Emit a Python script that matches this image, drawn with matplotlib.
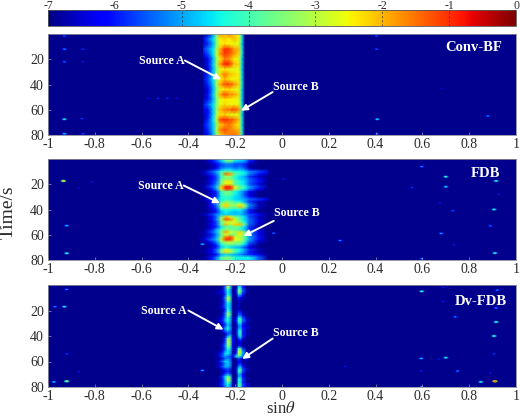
import numpy as np
import matplotlib
matplotlib.use('Agg')
import matplotlib.pyplot as plt
from matplotlib.path import Path
from matplotlib.transforms import Affine2D

plt.rcParams['font.family'] = ['Liberation Serif', 'DejaVu Serif']
plt.rcParams['mathtext.fontset'] = 'stix'

bg = -6.9
times = [0, 4, 8, 12, 16, 20, 24, 28, 32, 36, 40, 44, 48, 52, 56, 60, 64, 68, 72, 76, 80]
times_fine = [0, 2, 4, 6, 8, 10, 12, 14, 16, 18, 20, 22, 24, 26, 28, 30, 32, 34, 36, 38, 40,
              42, 44, 46, 48, 50, 52, 54, 56, 58, 60, 62, 64, 66, 68, 70, 72, 74, 76, 78, 80]

# conv-bf beam, db values per row
x_conv = [-0.335, -0.315, -0.295, -0.28, -0.265, -0.245, -0.225, -0.205, -0.185, -0.172, -0.16]
z_conv = [
    [-6.9, -6.6, -5.2, -3.6, -1.7, -2.0, -1.5, -2.2, -2.4, -4.6, -6.9],
    [-6.2, -5.4, -4.6, -3.4, -2.4, -2.2, -2.4, -2.0, -2.4, -4.4, -6.9],
    [-6.6, -5.8, -5.0, -3.6, -2.5, -2.3, -2.5, -2.6, -2.6, -4.6, -6.9],
    [-5.8, -5.2, -4.6, -3.2, -2.0, -1.0, -1.1, -1.8, -2.0, -4.4, -6.9],
    [-6.2, -5.6, -4.6, -3.0, -1.8, -1.0, -1.3, -1.7, -2.2, -4.4, -6.9],
    [-6.8, -6.2, -5.0, -3.4, -2.4, -1.6, -1.8, -2.4, -2.6, -4.6, -6.9],
    [-6.8, -6.0, -4.8, -3.2, -1.8, -0.8, -0.9, -2.0, -2.2, -4.5, -6.9],
    [-6.8, -6.4, -5.0, -3.6, -2.6, -2.4, -2.6, -2.6, -2.6, -4.6, -6.9],
    [-6.6, -5.8, -4.8, -3.4, -2.2, -1.5, -2.0, -2.2, -2.4, -4.5, -6.9],
    [-6.4, -5.6, -4.6, -3.4, -2.5, -2.0, -2.4, -2.6, -2.4, -4.5, -6.9],
    [-6.6, -5.8, -4.8, -3.2, -1.9, -1.2, -1.1, -1.6, -2.2, -4.4, -6.9],
    [-6.8, -6.2, -5.0, -3.6, -2.6, -2.4, -2.3, -2.6, -2.6, -4.6, -6.9],
    [-6.8, -6.0, -4.8, -3.2, -1.9, -1.1, -1.6, -1.8, -2.2, -4.5, -6.9],
    [-6.6, -6.0, -5.0, -3.6, -2.6, -2.4, -2.4, -2.5, -2.6, -4.6, -6.9],
    [-6.0, -5.4, -4.6, -3.4, -2.6, -2.2, -2.6, -2.4, -2.6, -4.5, -6.9],
    [-6.4, -6.0, -4.8, -3.4, -2.0, -1.6, -1.4, -1.1, -1.6, -4.0, -6.9],
    [-6.6, -6.0, -4.8, -3.2, -2.4, -2.2, -2.6, -2.6, -2.6, -4.6, -6.9],
    [-6.6, -5.8, -4.6, -3.0, -1.2, -0.9, -1.2, -1.4, -2.0, -4.4, -6.9],
    [-6.2, -5.6, -4.8, -3.4, -2.2, -1.8, -1.5, -2.0, -2.4, -4.5, -6.9],
    [-6.4, -5.8, -4.8, -3.2, -1.6, -1.2, -1.6, -1.8, -2.0, -4.4, -6.9],
    [-6.6, -6.0, -5.0, -3.4, -2.2, -1.8, -1.6, -1.4, -1.8, -4.4, -6.9],
]
conv_x = [-0.93, -0.93, -0.85, -0.93, -0.85, -0.93, -0.855, -0.93, -0.85, 0.404, 0.404, 0.407, 0.407, 0.88, 0.685,
          -0.57, -0.53, -0.49, -0.45]
conv_t = [1.6, 12, 12, 22, 22, 67.5, 67, 79, 79, 1.6, 12, 67.5, 79, 65, 43, 51, 51, 51, 51]
conv_v = [-5.6, -5.2, -5.8, -5.4, -6.0, -4.4, -5.8, -4.8, -5.6, -5.6, -5.6, -4.6, -5.4, -5.2, -6.2,
          -6.1, -5.9, -5.9, -6.1]

# fdb beam
x_fdb = [-0.36, -0.33, -0.30, -0.28, -0.26, -0.24, -0.22, -0.20, -0.18, -0.16, -0.14, -0.10, -0.06]
z_fdb = [
    [-6.9, -6.9, -6.2, -5.4, -4.6, -3.6, -3.2, -4.2, -4.6, -4.8, -5.8, -6.9, -6.9],
    [-6.9, -6.9, -6.2, -5.6, -4.8, -3.8, -3.6, -4.6, -4.8, -5.0, -6.0, -6.9, -6.9],
    [-6.9, -6.9, -6.6, -6.2, -5.6, -5.2, -5.2, -5.6, -5.6, -5.8, -6.6, -6.9, -6.9],
    [-6.9, -6.9, -6.8, -6.4, -5.6, -5.4, -5.4, -5.6, -5.4, -5.8, -6.8, -6.9, -6.9],
    [-6.9, -6.9, -6.6, -6.0, -5.2, -4.8, -4.8, -5.2, -5.0, -5.4, -6.4, -6.9, -6.9],
    [-6.9, -6.6, -5.6, -5.0, -4.2, -3.8, -4.0, -4.4, -4.4, -4.6, -5.2, -5.6, -6.2],
    [-6.9, -6.6, -5.8, -5.2, -3.8, -1.4, -1.8, -3.8, -4.2, -4.4, -5.2, -6.0, -6.6],
    [-6.9, -6.9, -6.2, -5.6, -4.2, -3.2, -3.4, -4.2, -4.6, -5.0, -5.8, -6.6, -6.9],
    [-6.9, -6.9, -6.2, -5.6, -3.9, -3.4, -3.6, -4.2, -4.6, -4.8, -5.4, -6.2, -6.9],
    [-6.9, -6.8, -6.0, -5.4, -3.6, -2.4, -2.4, -3.8, -4.2, -4.6, -5.4, -6.0, -6.9],
    [-6.9, -6.9, -6.0, -5.2, -3.6, -2.6, -2.8, -4.0, -4.4, -4.6, -5.6, -6.4, -6.9],
    [-6.9, -6.6, -5.6, -4.8, -2.2, -0.9, -1.0, -2.8, -3.6, -4.2, -5.0, -5.8, -6.9],
    [-6.9, -6.8, -6.0, -5.0, -2.4, -1.0, -1.2, -3.0, -3.8, -4.4, -5.2, -6.2, -6.9],
    [-6.9, -6.9, -6.4, -5.8, -4.2, -3.6, -3.8, -4.4, -4.8, -5.4, -6.2, -6.9, -6.9],
    [-6.9, -6.9, -6.4, -5.8, -4.2, -3.6, -3.8, -4.4, -4.8, -5.6, -6.4, -6.9, -6.9],
    [-6.9, -6.9, -6.4, -5.8, -4.4, -4.0, -4.2, -4.6, -4.8, -5.4, -6.2, -6.9, -6.9],
    [-6.9, -6.6, -5.8, -5.0, -4.4, -4.2, -4.4, -4.6, -4.8, -5.0, -5.4, -5.8, -6.2],
    [-6.9, -6.9, -6.2, -5.4, -4.0, -3.4, -3.6, -4.2, -4.4, -5.0, -5.8, -6.6, -6.9],
    [-6.9, -6.9, -6.0, -5.2, -3.2, -2.2, -3.2, -3.4, -2.6, -3.6, -5.2, -6.6, -6.9],
    [-6.9, -6.9, -6.2, -5.4, -3.4, -2.2, -3.4, -3.4, -2.0, -3.2, -5.2, -6.6, -6.9],
    [-6.9, -6.9, -6.4, -5.8, -4.4, -4.0, -4.2, -4.4, -4.2, -4.8, -5.8, -6.8, -6.9],
    [-6.9, -6.9, -6.6, -6.0, -4.8, -4.4, -4.6, -4.8, -4.6, -5.2, -6.2, -6.9, -6.9],
    [-6.9, -6.6, -5.8, -5.2, -4.8, -4.6, -4.8, -4.8, -4.8, -5.2, -5.6, -6.2, -6.9],
    [-6.9, -6.9, -6.2, -5.4, -3.6, -2.0, -2.6, -3.6, -4.0, -4.6, -5.6, -6.6, -6.9],
    [-6.9, -6.9, -6.2, -5.2, -3.2, -1.2, -1.6, -2.8, -3.8, -4.6, -5.4, -6.4, -6.9],
    [-6.9, -6.9, -6.4, -5.6, -3.8, -2.8, -2.8, -2.8, -3.6, -4.4, -5.4, -6.4, -6.9],
    [-6.9, -6.9, -6.2, -5.6, -3.8, -2.0, -3.0, -2.2, -2.0, -3.6, -5.4, -6.6, -6.9],
    [-6.9, -6.9, -6.4, -5.8, -4.6, -3.8, -4.0, -3.6, -3.8, -4.6, -5.8, -6.8, -6.9],
    [-6.9, -6.8, -6.0, -5.0, -4.0, -3.4, -3.6, -3.8, -4.2, -4.8, -5.8, -6.6, -6.9],
    [-6.9, -6.6, -5.6, -4.8, -3.4, -1.8, -2.8, -3.2, -2.2, -3.4, -5.0, -6.2, -6.9],
    [-6.9, -6.8, -6.0, -5.2, -3.8, -2.6, -3.4, -3.4, -2.4, -3.6, -5.2, -6.4, -6.9],
    [-6.9, -6.6, -5.8, -5.0, -3.4, -1.6, -1.2, -2.8, -3.0, -3.8, -5.0, -6.0, -6.9],
    [-6.9, -6.4, -5.4, -4.8, -2.8, -1.0, -1.0, -2.6, -2.8, -3.8, -5.0, -6.2, -6.9],
    [-6.9, -6.8, -6.0, -5.2, -3.8, -3.0, -3.0, -3.2, -3.4, -4.2, -5.4, -6.6, -6.9],
    [-6.9, -6.9, -6.4, -5.8, -4.4, -3.6, -3.6, -3.8, -3.8, -4.6, -5.8, -6.8, -6.9],
    [-6.9, -6.9, -6.6, -6.0, -4.8, -4.4, -4.6, -4.8, -5.0, -5.6, -6.4, -6.9, -6.9],
    [-6.9, -6.8, -6.2, -5.4, -3.8, -2.6, -3.2, -4.0, -4.4, -5.0, -5.8, -6.6, -6.9],
    [-6.9, -6.8, -6.2, -5.4, -3.6, -2.2, -3.0, -4.0, -4.6, -5.2, -6.0, -6.8, -6.9],
    [-6.9, -6.9, -6.6, -6.2, -5.0, -4.6, -4.8, -5.0, -5.2, -5.6, -5.8, -6.2, -6.9],
    [-6.9, -6.8, -6.0, -5.2, -3.9, -3.4, -3.6, -4.2, -4.4, -4.4, -4.4, -5.4, -6.9],
    [-6.9, -6.8, -6.0, -5.2, -4.0, -3.6, -3.8, -4.4, -4.6, -4.6, -4.6, -5.6, -6.9],
]
fdb_x = [-0.934, -0.92, -0.92, -0.81, -0.87, -0.34, -0.036, 0.007, 0.248, 0.597, 0.70, 0.70, 0.915, 0.906, 0.89,
         0.68, 0.73, 0.675, 0.555, 0.735, 0.91, 0.597, 0.925]
fdb_t = [17.4, 52.8, 74.7, 18, 23, 67.5, 58.8, 16, 64.6, 6, 14, 22, 17.4, 40, 53, 59, 41, 35, 22.6, 68, 74.5, 79, 28]
fdb_v = [-2.8, -4.8, -4.2, -6.0, -6.1, -4.8, -5.4, -6.0, -5.2, -5.2, -4.2, -4.6, -4.2, -4.3, -5.4,
         -5.0, -5.6, -6.0, -5.8, -6.0, -4.2, -5.2, -6.0]

# dv-fdb beam, two narrow lines
x_dv = [-0.29, -0.27, -0.255, -0.243, -0.233, -0.223, -0.21, -0.195, -0.186, -0.178, -0.168, -0.15, -0.13]
z_dv = [
    [-6.9, -6.9, -6.8, -5.8, -3.0, -4.8, -6.8, -6.9, -5.2, -5.0, -6.2, -6.9, -6.9],
    [-6.9, -6.9, -6.8, -5.4, -2.6, -4.2, -6.8, -6.8, -4.6, -4.4, -6.0, -6.9, -6.9],
    [-6.9, -6.8, -6.6, -5.4, -4.2, -4.8, -6.8, -6.4, -3.8, -3.6, -5.4, -6.8, -6.9],
    [-6.9, -6.4, -6.4, -5.6, -4.4, -4.8, -6.8, -6.4, -3.6, -3.6, -5.6, -6.8, -6.9],
    [-6.9, -6.8, -6.8, -5.8, -4.2, -4.6, -6.8, -6.8, -5.0, -5.0, -6.2, -6.9, -6.9],
    [-6.9, -6.9, -6.4, -5.2, -3.0, -3.6, -6.6, -6.9, -5.8, -6.2, -6.6, -6.9, -6.9],
    [-6.9, -6.9, -6.6, -5.4, -3.2, -3.8, -6.8, -6.9, -6.4, -6.6, -6.8, -6.9, -6.9],
    [-6.9, -6.8, -6.6, -5.6, -4.2, -4.6, -6.8, -6.9, -6.6, -6.8, -6.9, -6.9, -6.9],
    [-6.9, -6.9, -6.4, -5.4, -4.6, -4.8, -6.8, -6.9, -6.4, -6.8, -6.9, -6.9, -6.9],
    [-6.9, -6.8, -6.4, -5.6, -4.4, -4.8, -6.8, -6.9, -6.6, -6.8, -6.9, -6.9, -6.9],
    [-6.9, -6.9, -6.8, -6.0, -4.2, -4.6, -6.8, -6.9, -6.4, -6.6, -6.9, -6.9, -6.9],
    [-6.9, -6.9, -6.6, -5.4, -3.4, -4.0, -6.8, -6.8, -5.8, -5.8, -6.6, -6.9, -6.9],
    [-6.9, -6.9, -6.6, -5.4, -3.2, -4.0, -6.8, -6.9, -5.6, -5.4, -6.4, -6.9, -6.9],
    [-6.9, -6.8, -6.2, -5.2, -4.2, -4.8, -6.8, -6.4, -4.6, -4.2, -5.6, -6.6, -6.9],
    [-6.9, -6.4, -6.0, -4.8, -4.0, -4.6, -6.8, -6.2, -4.2, -3.8, -5.2, -6.4, -6.9],
    [-6.9, -6.8, -6.4, -5.6, -4.6, -5.0, -6.8, -6.6, -4.8, -4.4, -5.8, -6.8, -6.9],
    [-6.9, -6.9, -6.6, -5.8, -4.8, -5.2, -6.8, -6.8, -5.4, -5.0, -6.2, -6.6, -6.9],
    [-6.9, -6.8, -6.2, -5.0, -4.2, -4.8, -6.8, -6.6, -5.4, -4.8, -6.0, -6.4, -6.9],
    [-6.9, -6.9, -6.6, -5.4, -4.8, -5.2, -6.8, -6.6, -4.8, -4.0, -5.8, -6.8, -6.9],
    [-6.9, -6.9, -6.9, -6.4, -5.8, -5.6, -6.8, -6.6, -4.8, -4.0, -6.0, -6.6, -6.9],
    [-6.9, -6.9, -6.9, -6.6, -5.4, -4.6, -6.6, -6.8, -5.0, -4.2, -5.8, -6.8, -6.9],
    [-6.9, -6.9, -6.8, -5.8, -3.8, -3.4, -6.2, -6.9, -5.8, -5.0, -6.4, -6.9, -6.9],
    [-6.9, -6.9, -6.8, -5.8, -3.2, -3.4, -6.2, -6.9, -6.4, -6.2, -6.8, -6.9, -6.9],
    [-6.9, -6.9, -6.6, -5.6, -3.4, -3.2, -6.2, -6.9, -6.4, -6.4, -6.8, -6.9, -6.9],
    [-6.9, -6.9, -6.4, -5.2, -3.6, -3.6, -6.4, -6.9, -6.2, -6.4, -6.8, -6.9, -6.9],
    [-6.9, -6.9, -6.6, -5.6, -4.2, -4.4, -6.6, -6.6, -4.4, -3.8, -5.8, -6.9, -6.9],
    [-6.9, -6.8, -6.2, -5.2, -4.6, -4.8, -6.8, -6.2, -3.2, -2.8, -5.0, -6.8, -6.9],
    [-6.9, -6.6, -5.8, -4.6, -4.4, -4.8, -6.8, -6.0, -3.0, -3.0, -5.0, -6.4, -6.9],
    [-6.9, -6.4, -5.6, -5.0, -5.4, -5.6, -6.2, -4.4, -3.8, -4.4, -5.2, -5.8, -6.9],
    [-6.9, -6.9, -6.4, -5.6, -5.2, -5.4, -6.9, -6.8, -5.6, -6.0, -6.6, -6.4, -6.9],
    [-6.9, -6.4, -5.4, -4.6, -4.6, -5.2, -6.8, -6.9, -6.2, -6.4, -6.8, -6.9, -6.9],
    [-6.9, -6.8, -6.0, -5.2, -4.8, -5.0, -6.8, -6.9, -6.0, -5.8, -6.6, -6.9, -6.9],
    [-6.9, -6.4, -5.6, -4.8, -4.8, -5.2, -6.9, -6.8, -5.4, -5.0, -6.2, -6.9, -6.9],
    [-6.9, -6.9, -6.4, -5.8, -5.6, -5.8, -6.9, -6.6, -4.6, -4.0, -5.6, -6.6, -6.9],
    [-6.9, -6.9, -6.6, -6.2, -5.8, -6.0, -6.9, -6.6, -4.2, -3.6, -5.6, -6.8, -6.9],
    [-6.9, -6.9, -6.6, -5.8, -5.2, -5.6, -6.9, -6.8, -5.0, -5.0, -6.2, -6.9, -6.9],
    [-6.9, -6.8, -5.8, -4.6, -3.6, -4.2, -6.8, -6.9, -5.2, -4.8, -6.2, -6.9, -6.9],
    [-6.9, -6.8, -6.0, -4.8, -2.8, -3.4, -6.6, -6.8, -4.4, -3.8, -5.6, -6.8, -6.9],
    [-6.9, -6.8, -6.0, -5.0, -3.6, -4.0, -6.8, -6.8, -4.6, -4.4, -6.0, -6.9, -6.9],
    [-6.9, -6.6, -5.8, -5.0, -4.4, -4.8, -6.8, -6.6, -3.8, -3.8, -5.6, -6.4, -6.9],
    [-6.9, -6.8, -6.2, -5.4, -4.6, -5.0, -6.8, -6.8, -4.4, -4.4, -5.8, -6.6, -6.9],
]
dv_x = [-0.92, -0.97, -0.93, -0.92, -0.975, -0.92, -0.87, -0.34, 0.27, 0.597, 0.69, 0.92, 0.69, 0.915, 0.74, 0.915,
        0.906, 0.906, 0.595, 0.70, 0.67, 0.75, 0.595, 0.89, 0.85, 0.91, 0.597]
dv_t = [3.5, 17, 17, 54, 76, 75.5, 68, 67, 64, 5, 2, 4, 13, 18, 25, 29, 40, 54, 57.6, 57, 58, 67.5, 67.5, 69, 76,
        75.5, 80]
dv_v = [-5.2, -5.2, -4.4, -5.8, -4.8, -3.4, -6.0, -5.0, -6.0, -4.2, -6.0, -5.2, -6.0, -5.2, -5.2, -4.0,
        -4.0, -5.8, -4.8, -4.4, -6.0, -5.2, -6.0, -6.0, -4.2, -1.6, -4.8]

x_ticks = [-1, -0.8, -0.6, -0.4, -0.2, 0, 0.2, 0.4, 0.6, 0.8, 1]
x_labels = ['-1', '-0.8', '-0.6', '-0.4', '-0.2', '0', '0.2', '0.4', '0.6', '0.8', '1']
y_ticks = [20, 40, 60, 80]
cb_ticks = [-7, -6, -5, -4, -3, -2, -1, 0]

W, H = 520, 417
fig = plt.figure(figsize=(W / 100, H / 100), dpi=100)


def box(x0, y0, x1, y1):
    return [x0 / W, 1 - y1 / H, (x1 - x0) / W, (y1 - y0) / H]


# stretched dot for the small side lobes
dot = Path.unit_circle().transformed(Affine2D().scale(2.2, 1))
txt_col = '#2b2b2b'

panels = [
    ('Conv-BF', (48, 34, 516, 135), x_conv, times, z_conv, conv_x, conv_t, conv_v, (0.97, 0.87),
     (-0.415, 21), (-0.26, 36), (-0.04, 46), (-0.175, 60.8), (-0.415, 21), (-0.04, 42)),
    ('FDB', (48, 159, 516, 260), x_fdb, times_fine, z_fdb, fdb_x, fdb_t, fdb_v, (0.966, 0.86),
     (-0.42, 21), (-0.265, 35), (-0.035, 49), (-0.165, 61), (-0.42, 21), (-0.035, 43)),
    ('Dv-FDB', (48, 285, 516, 387), x_dv, times_fine, z_dv, dv_x, dv_t, dv_v, (0.98, 0.843),
     (-0.40, 20), (-0.25, 35), (-0.04, 42), (-0.17, 58), (-0.405, 20.5), (-0.04, 38)),
]

for i, (name, rect, bx, bt, bz, sx, st, sv, lab, a_tail, a_tip, b_tail, b_tip, a_txt, b_txt) in enumerate(panels):
    ax = fig.add_axes(box(*rect))
    cm = plt.get_cmap('jet')
    ax.set_facecolor(cm((bg + 7) / 7))
    mesh = ax.pcolormesh(bx, bt, np.array(bz), cmap='jet', vmin=-7, vmax=0, shading='gouraud')
    ax.scatter(sx, st, c=np.array(sv) - 1.0, cmap='jet', vmin=-7, vmax=0, s=16, marker=dot, linewidths=0, alpha=0.7)
    ax.scatter(sx, st, c=sv, cmap='jet', vmin=-7, vmax=0, s=5, marker=dot, linewidths=0)
    ax.set_xlim(-1, 1)
    ax.set_ylim(80, 0)
    ax.set_xticks(x_ticks)
    ax.set_xticklabels(x_labels)
    ax.set_yticks(y_ticks)
    ax.tick_params(direction='in', length=2.5, width=0.5, color='#9a9ab0', labelsize=10, labelcolor=txt_col, pad=2)
    ax.tick_params(axis='y', pad=3)
    for s in ax.spines.values():
        s.set_color('#8a8a9a')
        s.set_linewidth(0.6)
    ax.text(lab[0], lab[1], name, transform=ax.transAxes, color='white', fontsize=10.5, fontweight='bold',
            ha='right', va='center')
    ax.text(a_txt[0], a_txt[1], 'Source A', color='white', fontsize=8.6, fontweight='bold', ha='right', va='center')
    ax.text(b_txt[0], b_txt[1], 'Source B', color='white', fontsize=8.6, fontweight='bold', ha='left', va='center')
    for tail, tip in [(a_tail, a_tip), (b_tail, b_tip)]:
        ax.annotate('', xy=tip, xytext=tail,
                    arrowprops=dict(arrowstyle='-|>', color='white', lw=1.4, mutation_scale=9,
                                    shrinkA=0, shrinkB=0))

# colorbar on top
cax = fig.add_axes(box(48, 10, 516, 26))
cb = fig.colorbar(mesh, cax=cax, orientation='horizontal', ticks=cb_ticks)
cb.solids.set_edgecolor('face')
cb.ax.xaxis.set_ticks_position('top')
cb.ax.set_xticklabels([str(v) for v in cb_ticks])
cb.ax.tick_params(length=0, labelsize=8.5, labelcolor=txt_col, pad=0.5)
for lb in cb.ax.get_xticklabels():
    lb.set_va('baseline')
cb.outline.set_edgecolor('#555555')
cb.outline.set_linewidth(0.6)
for v in cb_ticks[1:-1]:
    cb.ax.axvline(v, color='#333333', lw=0.5, ls=(0, (3, 3)))

fig.text(8 / W, 1 - 212 / H, 'Time/s', rotation=90, fontsize=14, color=txt_col, ha='center', va='center')
fig.text(281 / W, 1 - 409 / H, r'sin$\theta$', fontsize=12, color=txt_col, ha='center', va='center')

fig.savefig('out.png', dpi=100)
